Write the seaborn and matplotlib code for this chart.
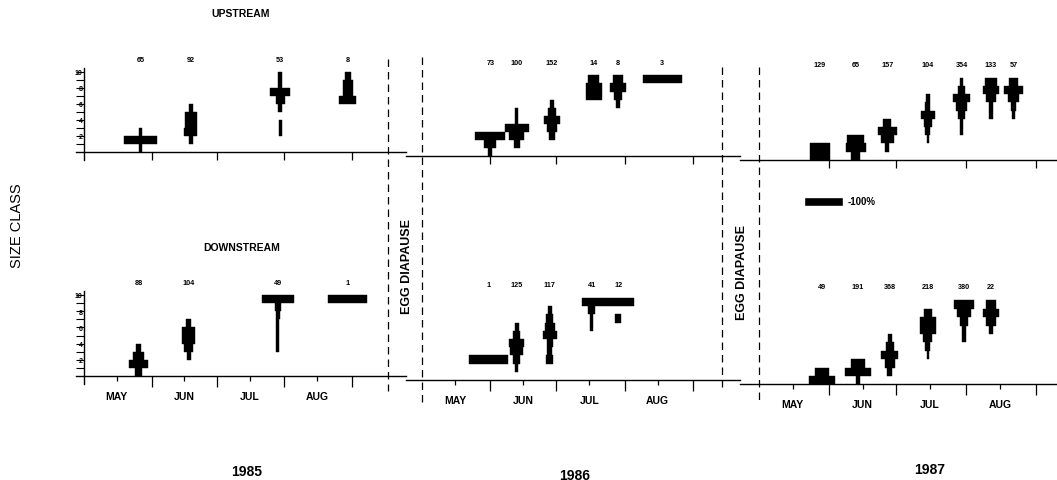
import numpy as np
import matplotlib
matplotlib.use("Agg")
import matplotlib.pyplot as plt
import matplotlib.transforms as mtransforms
import seaborn as sns

sns.set_style("ticks", {"axes.edgecolor": "black", "xtick.color": "black",
                        "ytick.color": "black", "text.color": "black"})
plt.rcParams['font.family'] = ['Liberation Sans', 'DejaVu Sans']

# size classes and month axis (day of year)
size_classes = np.arange(1, 11)
months = ['MAY', 'JUN', 'JUL', 'AUG']
month_starts = [152, 182, 213, 244]      # Jun 1 .. Sep 1
month_mids = [136, 167, 197, 228]

# percent of the sample in size classes 1..10
up85_day = [147, 170, 211, 242]
up85_n = [65, 92, 53, 8]
up85_pct = [
    [7, 85, 8, 0, 0, 0, 0, 0, 0, 0],
    [0, 11, 34, 32, 30, 11, 0, 0, 0, 0],
    [0, 0, 8, 8, 0, 9, 23, 51, 10, 10],
    [0, 0, 0, 0, 0, 0, 43, 26, 26, 15],
]
dn85_day = [146, 169, 210, 242]
dn85_n = [88, 104, 49, 1]
dn85_pct = [
    [17, 51, 27, 11, 0, 0, 0, 0, 0, 0],
    [0, 0, 10, 24, 34, 34, 12, 0, 0, 0],
    [0, 0, 0, 8, 8, 8, 8, 9, 15, 82],
    [0, 0, 0, 0, 0, 0, 0, 0, 0, 100],
]

up86_day = [152, 164, 180, 199, 210, 230]
up86_n = [73, 100, 152, 14, 8, 3]
up86_pct = [
    [10, 30, 77, 0, 0, 0, 0, 0, 0, 0],
    [0, 15, 38, 62, 9, 9, 0, 0, 0, 0],
    [0, 0, 17, 26, 39, 19, 9, 0, 0, 0],
    [0, 0, 0, 0, 0, 0, 0, 40, 40, 28],
    [0, 0, 0, 0, 0, 0, 10, 20, 41, 24],
    [0, 0, 0, 0, 0, 0, 0, 0, 0, 100],
]
dn86_day = [151, 164, 179, 198, 210]
dn86_n = [1, 125, 117, 41, 12]
dn86_pct = [
    [0, 0, 100, 0, 0, 0, 0, 0, 0, 0],
    [0, 7, 19, 32, 38, 19, 10, 0, 0, 0],
    [0, 0, 19, 13, 15, 36, 27, 19, 10, 0],
    [0, 0, 0, 0, 0, 0, 9, 9, 17, 51],
    [0, 0, 0, 0, 0, 0, 0, 15, 0, 82],
]

up87_day = [148, 164, 178, 196, 211, 224, 234]
up87_n = [129, 65, 157, 104, 354, 133, 57]
up87_pct = [
    [50, 50, 0, 0, 0, 0, 0, 0, 0, 0],
    [23, 53, 43, 0, 0, 0, 0, 0, 0, 0],
    [0, 10, 34, 50, 20, 0, 0, 0, 0, 0],
    [0, 0, 7, 13, 21, 34, 13, 9, 0, 0],
    [0, 0, 0, 9, 9, 17, 29, 43, 17, 8],
    [0, 0, 0, 0, 0, 9, 9, 26, 43, 29],
    [0, 0, 0, 0, 0, 8, 15, 28, 47, 23],
]
dn87_day = [149, 165, 179, 196, 212, 224]
dn87_n = [49, 191, 368, 218, 380, 22]
dn87_pct = [
    [66, 38, 0, 0, 0, 0, 0, 0, 0, 0],
    [9, 66, 34, 0, 0, 0, 0, 0, 0, 0],
    [0, 13, 26, 44, 21, 10, 0, 0, 0, 0],
    [0, 0, 0, 6, 13, 23, 40, 40, 20, 0],
    [0, 0, 0, 0, 0, 11, 11, 21, 34, 51],
    [0, 0, 0, 0, 0, 0, 11, 26, 43, 26],
]

panels = {
    ('up', 1985): (up85_day, up85_n, up85_pct),
    ('dn', 1985): (dn85_day, dn85_n, dn85_pct),
    ('up', 1986): (up86_day, up86_n, up86_pct),
    ('dn', 1986): (dn86_day, dn86_n, dn86_pct),
    ('up', 1987): (up87_day, up87_n, up87_pct),
    ('dn', 1987): (dn87_day, dn87_n, dn87_pct),
}

# ---- layout (pixels of the 1057x481 figure) ----
W, H = 1057, 481
fig = plt.figure(figsize=(W / 100, H / 100), dpi=100)

# May-1 pixel, pixels per day, left / right edge of the year's axes
x_geom = {1985: (84, 2.179, 76, 406), 1986: (422, 2.203, 406, 740),
          1987: (759, 2.252, 740, 1057)}
# baseline pixel, pixels per size class
y_geom = {('up', 1985): (153, 8.0), ('up', 1986): (157.3, 8.1), ('up', 1987): (160.7, 8.2),
          ('dn', 1985): (377, 8.1), ('dn', 1986): (381, 8.2), ('dn', 1987): (385.3, 8.4)}
YMIN, YMAX = -1.0, 10.5
BAR100 = 39  # pixel width of a 100 % bar


def setup_ax(row, year):
    may1, s, lpx, rpx = x_geom[year]
    base, unit = y_geom[(row, year)]
    top_px = base - YMAX * unit
    bot_px = base - YMIN * unit
    ax = fig.add_axes([lpx / W, 1 - bot_px / H, (rpx - lpx) / W, (bot_px - top_px) / H])
    ax.set_xlim(121 + (lpx - may1) / s, 121 + (rpx - may1) / s)
    ax.set_ylim(YMIN, YMAX)
    ax.patch.set_visible(False)
    ax.spines['top'].set_visible(False)
    ax.spines['right'].set_visible(False)
    ax.spines['bottom'].set_position(('data', 0))
    ax.spines['bottom'].set_linewidth(1.0)
    if year == 1985:
        ax.spines['left'].set_position(('data', 121))
        ax.spines['left'].set_linewidth(1.0)
        ax.set_yticks(size_classes, labels=[str(k) if k % 2 == 0 else '' for k in size_classes])
        ax.tick_params(axis='y', direction='out', length=6, width=0.8, pad=-5, labelsize=5)
        for lab in ax.get_yticklabels():
            lab.set_fontweight('bold')
    else:
        ax.spines['left'].set_visible(False)
        ax.set_yticks([])
    ax.set_xticks(month_starts, labels=[''] * len(month_starts))
    if row == 'up':
        ax.tick_params(axis='x', direction='out', length=6, width=0.9)
    else:
        ax.tick_params(axis='x', which='major', direction='out', length=8, width=0.9)
        ax.set_xticks(month_mids, labels=months, minor=True)
        ax.tick_params(axis='x', which='minor', direction='out', length=3.5, width=0.9,
                       pad=7, labelsize=7.5)
        for lab in ax.get_xticklabels(minor=True):
            lab.set_fontweight('bold')
    return ax


axes = {}
for (row, year), (days, ns, pcts) in panels.items():
    ax = setup_ax(row, year)
    axes[(row, year)] = ax
    full = BAR100 / x_geom[year][1]
    for day, n, pct in zip(days, ns, pcts):
        pct = np.asarray(pct, float)
        keep = pct > 0
        w = pct[keep] / 100 * full
        ax.barh(size_classes[keep] - 0.5, w, height=1.0, left=day - w / 2,
                color='black', edgecolor='black', linewidth=0.3)
        ax.text(day, 11.6, str(n), ha='center', va='center', fontsize=5.2, fontweight='bold')

# dashed season separators (x in data of a year's axes, y in figure pixels)
def dashed(ax, x, y_top, y_bot):
    tr = mtransforms.blended_transform_factory(ax.transData, fig.transFigure)
    ax.plot([x, x], [1 - y_top / H, 1 - y_bot / H], transform=tr, color='black',
            lw=0.9, ls=(0, (6, 4)), clip_on=False)

dashed(axes[('up', 1985)], 121 + (388 - 84) / 2.179, 60, 392)
dashed(axes[('up', 1986)], 121, 58, 405)
dashed(axes[('up', 1986)], 121 + (722 - 422) / 2.203, 68, 392)
dashed(axes[('up', 1987)], 121, 68, 405)

# 100 % legend bar
ax = axes[('dn', 1987)]
full = BAR100 / x_geom[1987][1]
ax.barh(21.8, full, height=1.05, left=149.6 - full / 2, color='black', clip_on=False)
ax.text(160.5, 21.8, '-100%', ha='left', va='center', fontsize=7, fontweight='bold')

# labels
fig.text(241 / W, 1 - 14 / H, 'UPSTREAM', ha='center', va='center', fontsize=7.5, fontweight='bold')
fig.text(242 / W, 1 - 248 / H, 'DOWNSTREAM', ha='center', va='center', fontsize=7.5, fontweight='bold')
fig.text(17 / W, 1 - 226 / H, 'SIZE CLASS', ha='center', va='center', rotation=90, fontsize=10.5)
fig.text(407 / W, 1 - 266 / H, 'EGG DIAPAUSE', ha='center', va='center', rotation=90,
         fontsize=9, fontweight='bold')
fig.text(742 / W, 1 - 272 / H, 'EGG DIAPAUSE', ha='center', va='center', rotation=90,
         fontsize=9, fontweight='bold')
for x, y, yr in [(247, 472, '1985'), (575, 476, '1986'), (930, 470, '1987')]:
    fig.text(x / W, 1 - y / H, yr, ha='center', va='center', fontsize=10, fontweight='bold')

fig.savefig('out.png', dpi=100)
